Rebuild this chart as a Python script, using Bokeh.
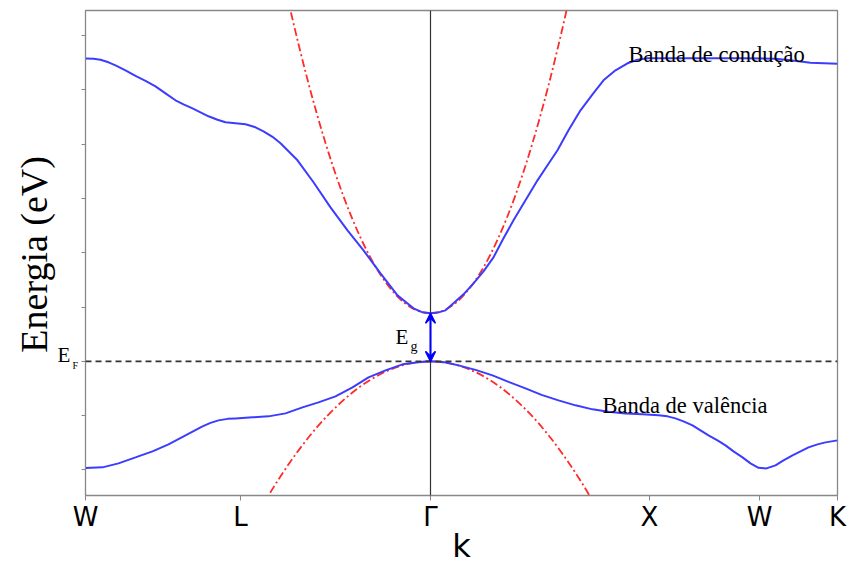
import math
from bokeh.plotting import figure
from bokeh.models import FixedTicker, Label, Arrow, VeeHead, Span
from bokeh.embed import file_html
from bokeh.resources import INLINE

# High-symmetry points along the k path
k_ticks = [0.0, 1.55, 3.45, 5.64, 6.74, 7.52]
k_labels = ["W", "L", "Γ", "X", "W", "K"]
energy_ticks = [-2, -1, 0, 1, 2, 3, 4, 5, 6]

# Conduction band (k, energy in eV)
cond_k = [0.00, 0.08, 0.15, 0.23, 0.30, 0.40, 0.50, 0.60, 0.70, 0.80, 0.90, 0.98,
          1.07, 1.15, 1.23, 1.32, 1.40, 1.50, 1.60, 1.70, 1.78, 1.87, 1.95, 2.12,
          2.28, 2.45, 2.62, 2.78, 2.95, 3.12, 3.28, 3.36, 3.45, 3.53, 3.60, 3.68,
          3.78, 3.88, 3.98, 4.08, 4.18, 4.28, 4.40, 4.52, 4.62, 4.72, 4.83, 4.95,
          5.07, 5.18, 5.30, 5.42, 5.52, 5.62, 6.15, 6.55, 6.90, 7.05, 7.25, 7.52]
cond_e = [5.575, 5.571, 5.552, 5.506, 5.451, 5.359, 5.258, 5.166, 5.064, 4.935, 4.807, 4.733,
          4.659, 4.586, 4.512, 4.448, 4.401, 4.383, 4.365, 4.309, 4.236, 4.134, 4.015, 3.702,
          3.297, 2.836, 2.413, 2.044, 1.621, 1.215, 0.976, 0.910, 0.884, 0.902, 0.939, 1.068,
          1.234, 1.436, 1.657, 1.915, 2.265, 2.597, 2.965, 3.333, 3.610, 3.886, 4.254, 4.622,
          4.917, 5.175, 5.359, 5.488, 5.552, 5.580, 5.580, 5.580, 5.571, 5.543, 5.497, 5.479]

# Valence band (k, energy in eV)
val_k = [0.00, 0.17, 0.33, 0.50, 0.67, 0.83, 1.00, 1.17, 1.25, 1.33, 1.42, 1.50,
         1.67, 1.83, 2.00, 2.17, 2.33, 2.50, 2.67, 2.83, 3.00, 3.17, 3.33, 3.45,
         3.59, 3.73, 3.90, 4.07, 4.23, 4.40, 4.56, 4.73, 4.90, 5.07, 5.23, 5.40,
         5.57, 5.73, 5.82, 5.90, 5.98, 6.07, 6.15, 6.23, 6.32, 6.40, 6.48, 6.57,
         6.65, 6.73, 6.81, 6.90, 6.98, 7.07, 7.15, 7.23, 7.32, 7.40, 7.52]
val_e = [-1.965, -1.952, -1.878, -1.768, -1.657, -1.529, -1.363, -1.197, -1.133, -1.087, -1.059, -1.050,
         -1.031, -1.013, -0.958, -0.847, -0.755, -0.645, -0.479, -0.295, -0.166, -0.055, -0.018, 0.000,
         -0.018, -0.074, -0.157, -0.258, -0.378, -0.497, -0.617, -0.718, -0.810, -0.884, -0.930, -0.958,
         -0.976, -0.994, -1.013, -1.050, -1.105, -1.179, -1.271, -1.363, -1.455, -1.547, -1.657, -1.768,
         -1.878, -1.961, -1.971, -1.915, -1.823, -1.731, -1.657, -1.584, -1.529, -1.492, -1.455]

# Parabolic (effective-mass) approximations around Gamma: vertex and branch ends
gamma_k = 3.45
cond_min = 0.884
val_max = 0.0
cond_par_ends_k = [2.05, 4.81]
cond_par_ends_e = [6.46, 6.46]
val_par_ends_k = [1.83, 5.04]
val_par_ends_e = [-2.47, -2.47]

fermi = 0.0

BLUE = "#3c3cff"
RED = "#ff2a2a"
SERIF = "Liberation Serif"

p = figure(width=850, height=567, x_range=(0, 7.52), y_range=(-2.47, 6.46),
           output_backend="svg", toolbar_location=None,
           min_border_left=85, min_border_right=13, min_border_top=10, min_border_bottom=72)
p.xgrid.visible = False
p.ygrid.visible = False
p.outline_line_color = "#888888"
p.outline_line_width = 1.3
p.background_fill_color = "white"

# x axis: k path
p.xaxis.ticker = FixedTicker(ticks=k_ticks)
p.xaxis.major_label_overrides = {k: lab for k, lab in zip(k_ticks, k_labels)}
p.xaxis.minor_tick_line_color = None
p.xaxis.major_tick_in = 0
p.xaxis.major_tick_out = 5
p.xaxis.axis_line_color = "#888888"
p.xaxis.major_tick_line_color = "#888888"
p.xaxis.major_label_text_font = "DejaVu Sans"
p.xaxis.major_label_text_font_size = "26px"
p.xaxis.major_label_text_color = "black"
p.xaxis.major_label_standoff = 1
p.xaxis.axis_label = "k"
p.xaxis.axis_label_text_font = "DejaVu Sans"
p.xaxis.axis_label_text_font_style = "normal"
p.xaxis.axis_label_text_font_size = "32px"
p.xaxis.axis_label_text_color = "black"
p.xaxis.axis_label_standoff = -8

# y axis: energy, unlabeled ticks (its title is placed as a label in the left panel)
p.yaxis.ticker = FixedTicker(ticks=energy_ticks)
p.yaxis.major_label_overrides = {t: "" for t in energy_ticks}
p.yaxis.minor_tick_line_color = None
p.yaxis.major_tick_in = 0
p.yaxis.major_tick_out = 4
p.yaxis.axis_line_color = "#888888"
p.yaxis.major_tick_line_color = "#888888"
p.yaxis.major_label_standoff = 0

# Gamma line and Fermi level
p.add_layout(Span(location=gamma_k, dimension="height", line_color="#333333", line_width=1.2))
p.add_layout(Span(location=fermi, dimension="width", line_color="#333333",
                  line_width=1.8, line_dash="6 4"))

# Parabolic approximations: each branch is a quadratic Bezier from the vertex,
# whose control point lies at the vertex energy halfway to the branch end
for ends_k, ends_e, vertex_e in ((cond_par_ends_k, cond_par_ends_e, cond_min),
                                 (val_par_ends_k, val_par_ends_e, val_max)):
    for ek, ee in zip(ends_k, ends_e):
        p.quadratic(x0=gamma_k, y0=vertex_e, x1=ek, y1=ee,
                    cx=(gamma_k + ek) / 2, cy=vertex_e,
                    line_color=RED, line_width=1.8, line_dash="8 3 2 3")

# Bands
p.line(cond_k, cond_e, line_color=BLUE, line_width=2)
p.line(val_k, val_e, line_color=BLUE, line_width=2)

# Band gap arrow
p.add_layout(Arrow(x_start=gamma_k, y_start=val_max, x_end=gamma_k, y_end=cond_min,
                   line_color="blue", line_width=2,
                   start=VeeHead(size=10, line_color="blue", fill_color="blue", line_width=1.5),
                   end=VeeHead(size=10, line_color="blue", fill_color="blue", line_width=1.5)))


def make_text(x, y, txt, size, **kw):
    opts = dict(text_baseline="alphabetic", text_align="left")
    opts.update(kw)
    return Label(x=x, y=y, text=txt, text_font=SERIF, text_font_size=size,
                 text_color="black", **opts)


p.add_layout(make_text(5.43, 5.65, "Banda de condução", "22.5px"))
p.add_layout(make_text(5.17, -0.81, "Banda de valência", "22.5px"))
p.add_layout(make_text(3.10, 0.44, "E", "21px"))
p.add_layout(make_text(3.25, 0.27, "g", "14px"))

# Items left of the frame: Fermi level marker and the energy axis title
p.add_layout(make_text(-0.28, 0.11, "E", "21px"), "left")
p.add_layout(make_text(-0.13, -0.074, "F", "10px"), "left")
p.add_layout(make_text(-0.52, 1.97, "Energia (eV)", "38px", angle=math.pi / 2,
                       text_align="center", text_baseline="middle"), "left")

open("out.html", "w").write(file_html(p, INLINE))
